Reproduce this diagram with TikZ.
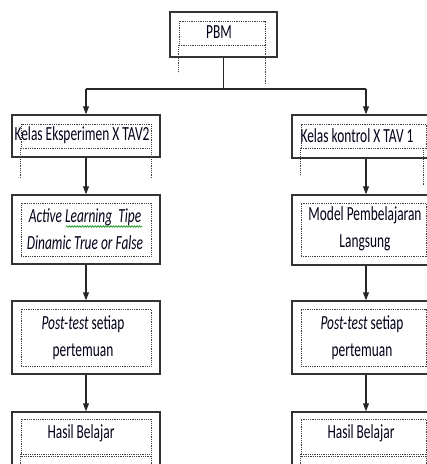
\documentclass[tikz,border=0pt]{standalone}
\usepackage{fontspec}
\newfontfamily\calfont[FakeStretch=0.67]{Carlito}
\usetikzlibrary{arrows.meta,decorations.pathmorphing}
\begin{document}
\begin{tikzpicture}[x=1pt,y=-1pt,
  outerbox/.style={rectangle, draw=black!80, line width=1.4pt, minimum width=148pt, inner sep=0pt},
  innerbox/.style={rectangle, draw=black!75, line width=0.7pt, dash pattern=on 0.9pt off 0.9pt, inner sep=0pt},
  dotline/.style={draw=black!75, line width=0.7pt, dash pattern=on 0.9pt off 0.9pt},
  txt/.style={font=\calfont\fontsize{20}{27}\selectfont, align=center, inner sep=0pt, text=black!90!blue},
  arr/.style={-{Triangle[width=6pt,length=8pt]}, line width=1.2pt, draw=black!85},
  ln/.style={line width=1.2pt, draw=black!85},
  wavy/.style={draw=green!55!black, line width=0.6pt, decorate, decoration={snake, amplitude=0.8pt, segment length=2.6pt}}
]
\useasboundingbox (0,0) rectangle (427,464);
\clip (0,0) rectangle (427,464);

% PBM
\node[outerbox, minimum width=107pt, minimum height=45pt] (pbm) at (223.5,34.5) {};
\node[innerbox, minimum width=86pt, minimum height=24pt] (pbmi) at (222,33) {};
\draw[dotline] (pbmi.south west) -- ++(0,27);
\draw[dotline] (pbmi.south east) -- ++(0,38);
\node[txt] (t0) at (219,32.6) {\strut PBM};

% left column
\node[outerbox, minimum height=42pt] (k1) at (86,136) {};
\node[innerbox, minimum width=130pt, minimum height=24pt] (k1i) at (86,136) {};
\draw[dotline] (k1i.south west) -- ++(0,29);
\draw[dotline] (k1i.south east) -- ++(0,29);
\node[txt] (t1) at (82,134.6) {\strut Kelas Eksperimen X TAV2};

\node[outerbox, minimum height=69pt] (m1) at (86,229.5) {};
\node[innerbox, minimum width=130pt, minimum height=53pt] (m1i) at (86,229.5) {};
\node[txt] (t3) at (85,230.1) {\strut\textit{Active Learning\ \ Tipe}\\\strut\textit{Dinamic True or False}};
\draw[wavy] (66,226.5) -- (142,226.5);

\node[outerbox, minimum height=73pt] (p1) at (86,337.5) {};
\node[innerbox, minimum width=130pt, minimum height=57pt] (p1i) at (86,337.5) {};
\node[txt] (t5) at (83,337.1) {\strut\textit{Post-test} setiap\\\strut pertemuan};

\node[outerbox, minimum height=60pt] (h1) at (86,442) {};
\node[innerbox, minimum width=130pt, minimum height=35pt] (h1i) at (86,436.5) {};
\draw[dotline] (h1i.south west) -- ++(0,20);
\draw[dotline] (h1i.south east) -- ++(0,20);
\draw[dotline] ([yshift=-2pt]h1i.south west) -- ([yshift=-2pt]h1i.south east);
\node[txt] (t7) at (81,432.6) {\strut Hasil Belajar};

% right column
\node[outerbox, minimum height=43pt] (k2) at (366,136.5) {};
\node[innerbox, minimum width=125pt, minimum height=24pt] (k2i) at (363.5,136) {};
\draw[dotline] (k2i.south west) -- ++(0,27);
\draw[dotline] ([xshift=-3pt]k2i.south east) -- ++(0,37);
\node[txt] (t2) at (357,137) {\strut Kelas kontrol X TAV 1};

\node[outerbox, minimum height=70pt] (m2) at (366,230) {};
\node[innerbox, minimum width=125pt, minimum height=53pt] (m2i) at (363.5,229.5) {};
\node[txt] (t4) at (365,229) {\strut Model Pembelajaran\\\strut Langsung};

\node[outerbox, minimum height=73pt] (p2) at (366,337.5) {};
\node[innerbox, minimum width=125pt, minimum height=57pt] (p2i) at (363.5,337.5) {};
\node[txt] (t6) at (362,337.5) {\strut\textit{Post-test} setiap\\\strut pertemuan};

\node[outerbox, minimum height=60pt] (h2) at (366,442) {};
\node[innerbox, minimum width=125pt, minimum height=35pt] (h2i) at (363.5,436.5) {};
\draw[dotline] (h2i.south west) -- ++(0,20);
\draw[dotline] (h2i.south east) -- ++(0,20);
\draw[dotline] ([yshift=-2pt]h2i.south west) -- ([yshift=-2pt]h2i.south east);
\node[txt] (t8) at (361,432.6) {\strut Hasil Belajar};

% connectors
\coordinate (jl) at (86,89);
\coordinate (jr) at (366,89);
\draw[ln] (pbm.south) -- (pbm.south |- jl);
\draw[ln] (jl) -- (jr);
\draw[arr] (jl) -- (k1.north);
\draw[arr] (jr) -- (k2.north);
\draw[arr] (k1.south) -- (m1.north);
\draw[arr] (m1.south) -- (p1.north);
\draw[arr] (p1.south) -- (h1.north);
\draw[arr] (k2.south) -- (m2.north);
\draw[arr] (m2.south) -- (p2.north);
\draw[arr] (p2.south) -- (h2.north);
\end{tikzpicture}
\end{document}
